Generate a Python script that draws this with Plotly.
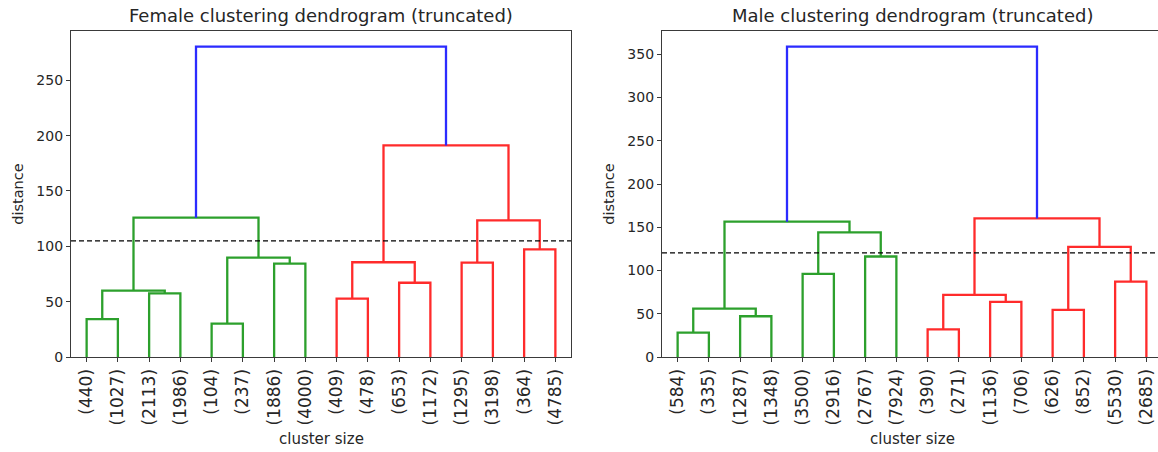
import plotly.graph_objects as go

W, H = 1158, 452

# ---------------- data ----------------
female_leaves = ["(440)", "(1027)", "(2113)", "(1986)", "(104)", "(237)", "(1886)", "(4000)",
                 "(409)", "(478)", "(653)", "(1172)", "(1295)", "(3198)", "(364)", "(4785)"]
male_leaves = ["(584)", "(335)", "(1287)", "(1348)", "(3500)", "(2916)", "(2767)", "(7924)",
               "(390)", "(271)", "(1136)", "(706)", "(626)", "(852)", "(5530)", "(2685)"]

# merge heights (bottom-up), each merge joins two nodes
# nodes 0..15 are leaves; merges create nodes 16.. in order
female_merges = [
    (0, 1, 34.3, "g"), (2, 3, 57.5, "g"), (16, 17, 60.0, "g"),
    (4, 5, 30.2, "g"), (6, 7, 84.4, "g"), (19, 20, 89.8, "g"),
    (18, 21, 125.9, "g"),
    (8, 9, 52.7, "r"), (10, 11, 67.1, "r"), (23, 24, 85.6, "r"),
    (12, 13, 85.3, "r"), (14, 15, 97.3, "r"), (26, 27, 123.5, "r"),
    (25, 28, 191.2, "r"),
    (22, 29, 280.5, "b"),
]
male_merges = [
    (0, 1, 28.2, "g"), (2, 3, 47.1, "g"), (16, 17, 56.0, "g"),
    (4, 5, 96.0, "g"), (6, 7, 116.2, "g"), (19, 20, 144.0, "g"),
    (18, 21, 156.5, "g"),
    (8, 9, 32.0, "r"), (10, 11, 63.7, "r"), (23, 24, 71.8, "r"),
    (12, 13, 54.4, "r"), (14, 15, 87.2, "r"), (26, 27, 127.3, "r"),
    (25, 28, 160.2, "r"),
    (22, 29, 358.8, "b"),
]
female_cut = 105.0
male_cut = 120.5
female_ymax = 295.0
male_ymax = 377.5
female_yticks = [0, 50, 100, 150, 200, 250]
male_yticks = [0, 50, 100, 150, 200, 250, 300, 350]

COLORS = {"g": "#2ca02c", "r": "#ff2b2b", "b": "#2b2bff"}

px_l = dict(x0=71, x1=571)
px_r = dict(x0=662, x1=1162)
y_top, y_bot = 30.5, 357
FONT = "DejaVu Sans"
TXT = "#262626"


def dendro_traces(leaves, merges, xa, ya):
    pos = {i: 5 + 10 * i for i in range(len(leaves))}
    hgt = {i: 0.0 for i in range(len(leaves))}
    xs = {k: [] for k in COLORS}
    ys = {k: [] for k in COLORS}
    nid = len(leaves)
    for a, b, h, c in merges:
        xa_, xb_ = pos[a], pos[b]
        xs[c] += [xa_, xa_, xb_, xb_, None]
        ys[c] += [hgt[a], h, h, hgt[b], None]
        pos[nid] = (xa_ + xb_) / 2
        hgt[nid] = h
        nid += 1
    out = []
    for c in COLORS:
        if xs[c]:
            out.append(go.Scatter(x=xs[c], y=ys[c], mode="lines",
                                  line=dict(color=COLORS[c], width=2.3),
                                  xaxis=xa, yaxis=ya, showlegend=False, hoverinfo="skip"))
    return out


fig = go.Figure()
for t in dendro_traces(female_leaves, female_merges, "x", "y"):
    fig.add_trace(t)
for t in dendro_traces(male_leaves, male_merges, "x2", "y2"):
    fig.add_trace(t)

ydom = [1 - y_bot / H, 1 - y_top / H]
xr2 = (W - px_r["x0"]) / (px_r["x1"] - px_r["x0"]) * 160

axis_common = dict(showgrid=False, zeroline=False, showline=True, linecolor="#3a3a3a", linewidth=1.3,
                   ticks="outside", ticklen=4, tickcolor="#3a3a3a", automargin=False)
tickfont_x = dict(family=FONT, size=17, color=TXT)
tickfont_y = dict(family=FONT, size=14, color=TXT)

fig.update_layout(
    width=W, height=H, margin=dict(l=0, r=0, t=0, b=0),
    paper_bgcolor="white", plot_bgcolor="white",
    xaxis=dict(domain=[px_l["x0"] / W, px_l["x1"] / W], range=[0, 160], mirror=True,
               tickmode="array", tickvals=[5 + 10 * i for i in range(16)], ticktext=female_leaves,
               tickangle=-90, tickfont=tickfont_x, anchor="y", **axis_common),
    yaxis=dict(domain=ydom, range=[0, female_ymax], mirror=True, tickvals=female_yticks,
               tickfont=tickfont_y, anchor="x", **axis_common),
    xaxis2=dict(domain=[px_r["x0"] / W, 1.0], range=[0, xr2], mirror=True,
                tickmode="array", tickvals=[5 + 10 * i for i in range(16)], ticktext=male_leaves,
                tickangle=-90, tickfont=tickfont_x, anchor="y2", **axis_common),
    yaxis2=dict(domain=ydom, range=[0, male_ymax], mirror=False, tickvals=male_yticks,
                tickfont=tickfont_y, anchor="x2", **axis_common),
    shapes=[
        dict(type="line", xref="x", yref="y", x0=0, x1=160, y0=female_cut, y1=female_cut,
             line=dict(color="black", width=1.2, dash="5px,3px")),
        dict(type="line", xref="x2", yref="y2", x0=0, x1=xr2, y0=male_cut, y1=male_cut,
             line=dict(color="black", width=1.2, dash="5px,3px")),
    ],
)

ymid = 1 - ((y_top + y_bot) / 2) / H
for x0, x1, title in [(px_l["x0"], px_l["x1"], "Female clustering dendrogram (truncated)"),
                      (px_r["x0"], px_r["x1"], "Male clustering dendrogram (truncated)")]:
    cx = (x0 + x1) / 2 / W
    fig.add_annotation(text=title, x=cx, y=1 - 15.5 / H, xref="paper", yref="paper", showarrow=False,
                       font=dict(family=FONT, size=18, color=TXT), xanchor="center", yanchor="middle")
    fig.add_annotation(text="cluster size", x=cx, y=1 - 439 / H, xref="paper", yref="paper",
                       showarrow=False, font=dict(family=FONT, size=15, color=TXT),
                       xanchor="center", yanchor="middle")
    fig.add_annotation(text="distance", x=(x0 - 53) / W, y=ymid, xref="paper", yref="paper",
                       showarrow=False, textangle=-90, font=dict(family=FONT, size=14.5, color=TXT),
                       xanchor="center", yanchor="middle")

fig.write_html("out.html")
